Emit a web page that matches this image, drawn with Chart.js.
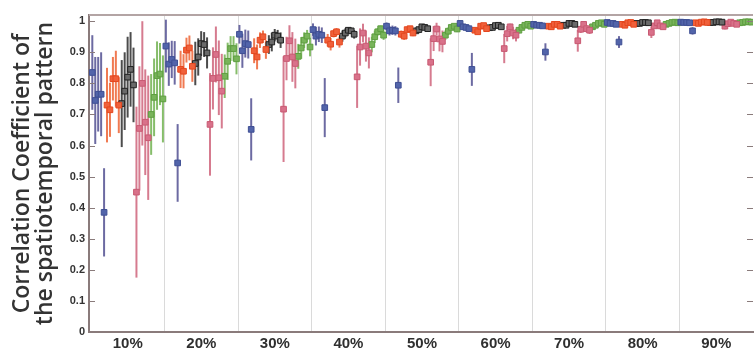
<!DOCTYPE html>
<html>
<head>
<meta charset="utf-8">
<script src="https://cdn.jsdelivr.net/npm/chart.js@4.4.1/dist/chart.umd.min.js"></script>
<style>
  html, body { margin: 0; padding: 0; background: #fff; overflow: hidden; }
  #wrap { width: 758px; height: 356px; }
</style>
</head>
<body>
<div id="wrap"><canvas id="grafico"></canvas></div>
<script>
// 9 groups (10% .. 90%), each with 5 colours x 5 points
const groupCenters = [10, 20, 30, 40, 50, 60, 70, 80, 90];
const yTickValues = [0, 0.1, 0.2, 0.3, 0.4, 0.5, 0.6, 0.7, 0.8, 0.9, 1];
const yTitle = ['Correlation Coefficient of', 'the spatiotemporal pattern'];

const blueVal = [
  0.835, 0.745, 0.765, 0.765, 0.385,
  0.92, 0.862, 0.877, 0.866, 0.544,
  0.958, 0.905, 0.928, 0.925, 0.652,
  0.973, 0.952, 0.958, 0.955, 0.722,
  0.984, 0.969, 0.971, 0.969, 0.794,
  0.993, 0.982, 0.98, 0.976, 0.845,
  0.99, 0.987, 0.987, 0.985, 0.901,
  0.996, 0.993, 0.993, 0.99, 0.933,
  0.997, 0.996, 0.996, 0.995, 0.969
];
const blueErr = [
  0.12, 0.14, 0.12, 0.135, 0.142,
  0.085, 0.07, 0.06, 0.07, 0.125,
  0.03, 0.055, 0.045, 0.045, 0.1,
  0.02, 0.03, 0.025, 0.025, 0.095,
  0.012, 0.015, 0.015, 0.015, 0.057,
  0.008, 0.01, 0.01, 0.01, 0.053,
  0.006, 0.008, 0.008, 0.008, 0.028,
  0.004, 0.005, 0.005, 0.005, 0.019,
  0.003, 0.003, 0.003, 0.003, 0.012
];
const redVal = [
  0.73, 0.715, 0.815, 0.815, 0.73,
  0.845, 0.839, 0.907, 0.914, 0.855,
  0.905, 0.885, 0.939, 0.95, 0.909,
  0.939, 0.926, 0.96, 0.966, 0.933,
  0.958, 0.952, 0.973, 0.976, 0.962,
  0.971, 0.966, 0.984, 0.986, 0.976,
  0.984, 0.982, 0.99, 0.99, 0.984,
  0.99, 0.987, 0.995, 0.996, 0.99,
  0.995, 0.993, 0.997, 0.998, 0.996
];
const redErr = [
  0.12, 0.087, 0.07, 0.09, 0.09,
  0.06, 0.055, 0.04, 0.04, 0.05,
  0.04, 0.04, 0.025, 0.02, 0.03,
  0.02, 0.02, 0.012, 0.012, 0.018,
  0.012, 0.012, 0.008, 0.008, 0.01,
  0.008, 0.008, 0.006, 0.006, 0.007,
  0.005, 0.005, 0.004, 0.004, 0.005,
  0.004, 0.004, 0.003, 0.003, 0.004,
  0.003, 0.003, 0.002, 0.002, 0.003
];
const blackVal = [
  0.735, 0.775, 0.82, 0.845, 0.795,
  0.864, 0.885, 0.928, 0.925, 0.898,
  0.925, 0.933, 0.955, 0.952, 0.939,
  0.952, 0.962, 0.971, 0.969, 0.958,
  0.969, 0.973, 0.982, 0.98, 0.976,
  0.979, 0.98, 0.986, 0.987, 0.982,
  0.987, 0.987, 0.993, 0.993, 0.99,
  0.993, 0.993, 0.996, 0.996, 0.995,
  0.996, 0.996, 0.998, 0.998, 0.997
];
const blackErr = [
  0.14, 0.125, 0.13, 0.12, 0.12,
  0.07, 0.06, 0.04, 0.04, 0.05,
  0.03, 0.03, 0.02, 0.02, 0.025,
  0.018, 0.015, 0.01, 0.01, 0.014,
  0.01, 0.009, 0.006, 0.006, 0.008,
  0.007, 0.006, 0.004, 0.004, 0.005,
  0.004, 0.004, 0.003, 0.003, 0.003,
  0.003, 0.003, 0.002, 0.002, 0.002,
  0.002, 0.002, 0.001, 0.001, 0.002
];
const pinkVal = [
  0.45, 0.655, 0.80, 0.675, 0.625,
  0.668, 0.816, 0.893, 0.818, 0.775,
  0.717, 0.88, 0.937, 0.885, 0.864,
  0.821, 0.917, 0.962, 0.92, 0.898,
  0.868, 0.944, 0.975, 0.943, 0.935,
  0.912, 0.96, 0.982, 0.962, 0.955,
  0.937, 0.974, 0.99, 0.976, 0.971,
  0.964, 0.985, 0.995, 0.985, 0.982,
  0.984, 0.992, 0.997, 0.993, 0.99
];
const pinkErr = [
  0.275, 0.2, 0.2, 0.17, 0.2,
  0.165, 0.1, 0.09, 0.12, 0.12,
  0.17, 0.07, 0.05, 0.08, 0.08,
  0.1, 0.06, 0.03, 0.05, 0.05,
  0.077, 0.04, 0.02, 0.04, 0.035,
  0.047, 0.025, 0.01, 0.02, 0.02,
  0.035, 0.012, 0.006, 0.012, 0.012,
  0.018, 0.008, 0.004, 0.008, 0.008,
  0.01, 0.005, 0.003, 0.005, 0.005
];
const greenVal = [
  0.70, 0.755, 0.825, 0.83, 0.75,
  0.823, 0.871, 0.912, 0.912, 0.879,
  0.887, 0.914, 0.939, 0.952, 0.917,
  0.925, 0.95, 0.966, 0.976, 0.955,
  0.955, 0.968, 0.98, 0.984, 0.975,
  0.971, 0.98, 0.987, 0.99, 0.984,
  0.982, 0.987, 0.993, 0.995, 0.99,
  0.99, 0.993, 0.996, 0.997, 0.995,
  0.995, 0.996, 0.998, 0.998, 0.997
];
const greenErr = [
  0.13, 0.125, 0.11, 0.1, 0.14,
  0.07, 0.06, 0.04, 0.04, 0.05,
  0.04, 0.035, 0.025, 0.02, 0.03,
  0.025, 0.02, 0.012, 0.01, 0.015,
  0.015, 0.012, 0.008, 0.006, 0.01,
  0.01, 0.008, 0.005, 0.004, 0.006,
  0.006, 0.005, 0.003, 0.003, 0.004,
  0.004, 0.003, 0.002, 0.002, 0.003,
  0.003, 0.002, 0.001, 0.001, 0.002
];

// x position: group boundary + slot (colour * 5 + point) of 25 slots, 0.4% wide
function slotX(i, colour) {
  const g = Math.floor(i / 5);
  const k = colour * 5 + (i % 5);
  return groupCenters[g] - 5 + (k + 0.45) * 0.4;
}

function series(vals, errs, colour, border, fill, bar) {
  return {
    data: vals.map((v, i) => ({ x: slotX(i, colour), y: v })),
    errors: errs,
    errColor: bar,
    pointStyle: 'rect',
    pointRadius: 4,
    borderWidth: 1,
    borderColor: border,
    backgroundColor: fill,
    showLine: false
  };
}

const errorBars = {
  id: 'errorBars',
  beforeDatasetsDraw(chart) {
    const ctx = chart.ctx;
    const y = chart.scales.y;
    ctx.save();
    ctx.lineWidth = 2;
    chart.data.datasets.forEach((ds, di) => {
      const meta = chart.getDatasetMeta(di);
      ctx.strokeStyle = ds.errColor;
      meta.data.forEach((pt, i) => {
        const v = ds.data[i].y, e = ds.errors[i];
        ctx.beginPath();
        ctx.moveTo(pt.x, y.getPixelForValue(v - e));
        ctx.lineTo(pt.x, y.getPixelForValue(Math.min(v + e, 1.02)));
        ctx.stroke();
      });
    });
    ctx.restore();
  },
  afterDraw(chart) {
    const ctx = chart.ctx;
    const a = chart.chartArea;
    const y = chart.scales.y;
    ctx.save();
    ctx.strokeStyle = '#b3a4a4';
    ctx.lineWidth = 2;
    ctx.beginPath();
    ctx.moveTo(a.left, a.top);
    ctx.lineTo(a.right, a.top);
    ctx.stroke();
    ctx.strokeStyle = '#8a7b7b';
    ctx.lineWidth = 1;
    yTickValues.forEach(v => {
      const py = Math.round(y.getPixelForValue(v)) + 0.5;
      ctx.beginPath();
      ctx.moveTo(a.left, py);
      ctx.lineTo(a.left + 6, py);
      ctx.moveTo(a.right - 6, py);
      ctx.lineTo(a.right, py);
      ctx.stroke();
    });
    ctx.restore();
  }
};

new Chart(document.getElementById('grafico'), {
  type: 'scatter',
  data: {
    datasets: [
      series(blueVal, blueErr, 0, '#3f4f94', '#5264aa', '#6c6aa2'),
      series(redVal, redErr, 1, '#e4471f', '#f0603a', '#f07a52'),
      series(blackVal, blackErr, 2, '#222222', '#6a6a6a', '#4c4c4c'),
      series(pinkVal, pinkErr, 3, '#c85a72', '#d9718a', '#d67b8f'),
      series(greenVal, greenErr, 4, '#5e9e40', '#78b45a', '#86bd6a')
    ]
  },
  options: {
    responsive: true,
    maintainAspectRatio: false,
    animation: false,
    layout: { padding: { top: 15, right: 1, left: 0, bottom: 0 } },
    plugins: {
      legend: { display: false },
      tooltip: { enabled: false }
    },
    scales: {
      x: {
        type: 'linear',
        min: 4.73,
        max: 95,
        afterBuildTicks: s => {
          const t = [];
          groupCenters.forEach(c => { t.push({ value: c }); if (c < 90) t.push({ value: c + 5 }); });
          s.ticks = t;
        },
        afterFit: s => { s.height = 24; },
        ticks: {
          autoSkip: false,
          maxRotation: 0,
          padding: 3,
          color: '#2f2f2f',
          font: { family: 'Liberation Sans', size: 15, weight: 'bold' },
          callback: v => (v % 10 === 0 ? v + '%' : '')
        },
        grid: {
          drawTicks: false,
          color: c => (c.tick && c.tick.value % 10 === 5 ? '#dadada' : 'rgba(0,0,0,0)'),
          lineWidth: 1
        },
        border: { color: '#8a7b7b', width: 2 }
      },
      y: {
        min: 0,
        max: 1.02,
        afterBuildTicks: s => { s.ticks = yTickValues.map(v => ({ value: v })); },
        afterFit: s => { s.width = 89; },
        ticks: {
          padding: 4,
          color: '#333',
          font: { family: 'Liberation Sans', size: 11, weight: 'bold' },
          callback: v => String(Number(v.toFixed(1)))
        },
        grid: { display: false, drawTicks: false },
        border: { color: '#8a7b7b', width: 2 },
        title: {
          display: true,
          text: yTitle,
          color: '#333',
          padding: { top: 11, bottom: 0 },
          font: { family: 'Open Sans', size: 23, weight: '600', lineHeight: 1.0 }
        }
      }
    }
  },
  plugins: [errorBars]
});
</script>
</body>
</html>
